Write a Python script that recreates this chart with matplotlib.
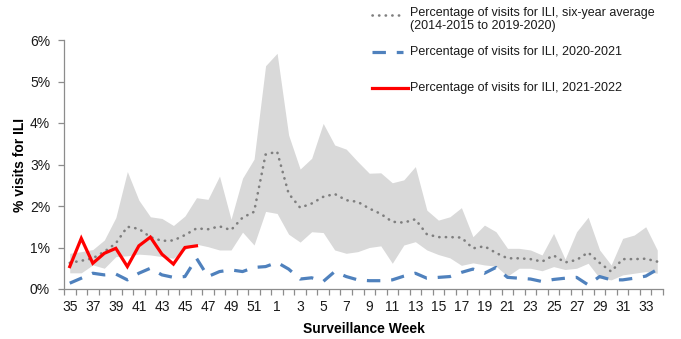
import matplotlib
matplotlib.use('Agg')
import matplotlib.pyplot as plt
from matplotlib.lines import Line2D
from matplotlib.ticker import FixedLocator, FuncFormatter

plt.rcParams['font.family'] = ['Liberation Sans', 'DejaVu Sans']

# Surveillance weeks 35..52 then 1..34
weeks = list(range(35, 53)) + list(range(1, 35))

# Six-year average and its range (percent of visits)
avg_6yr = [0.63, 0.68, 0.74, 0.90, 1.10, 1.50, 1.45, 1.25, 1.16, 1.17,
           1.30, 1.46, 1.44, 1.51, 1.42, 1.72, 1.86, 3.24, 3.31, 2.30,
           1.96, 2.06, 2.22, 2.29, 2.14, 2.10, 1.94, 1.81, 1.62, 1.60,
           1.68, 1.32, 1.25, 1.25, 1.24, 0.98, 1.03, 0.87, 0.74, 0.74,
           0.72, 0.66, 0.81, 0.64, 0.70, 0.88, 0.63, 0.42, 0.72, 0.72,
           0.73, 0.66]
range_high = [0.86, 0.90, 0.95, 1.18, 1.72, 2.83, 2.14, 1.74, 1.70, 1.53,
              1.76, 2.20, 2.16, 2.72, 1.68, 2.67, 3.13, 5.38, 5.68, 3.71,
              2.89, 3.15, 3.99, 3.47, 3.37, 3.07, 2.79, 2.80, 2.56, 2.63,
              2.95, 1.90, 1.66, 1.74, 1.96, 1.26, 1.54, 1.38, 0.98, 0.98,
              0.94, 0.82, 1.34, 0.72, 1.38, 1.73, 0.94, 0.58, 1.22, 1.30,
              1.50, 0.94]
range_low = [0.39, 0.39, 0.58, 0.50, 0.78, 0.80, 0.84, 0.82, 0.78, 0.74,
             0.95, 1.08, 1.02, 0.94, 0.94, 1.37, 1.06, 1.87, 1.82, 1.32,
             1.13, 1.38, 1.36, 0.94, 0.86, 0.90, 1.00, 1.04, 0.62, 1.06,
             1.14, 0.94, 0.83, 0.75, 0.57, 0.63, 0.58, 0.55, 0.31, 0.50,
             0.50, 0.44, 0.54, 0.47, 0.50, 0.62, 0.26, 0.22, 0.34, 0.38,
             0.42, 0.38]

season_2020_21 = [0.14, 0.26, 0.38, 0.34, 0.36, 0.22, 0.38, 0.50, 0.34, 0.28,
                  0.30, 0.74, 0.30, 0.42, 0.46, 0.42, 0.52, 0.54, 0.64, 0.48,
                  0.24, 0.27, 0.18, 0.42, 0.30, 0.22, 0.20, 0.20, 0.22, 0.31,
                  0.38, 0.26, 0.28, 0.30, 0.40, 0.48, 0.38, 0.52, 0.28, 0.26,
                  0.24, 0.18, 0.23, 0.26, 0.28, 0.10, 0.30, 0.22, 0.22, 0.26,
                  0.31, 0.47]

season_2021_22 = [0.54, 1.22, 0.62, 0.86, 0.98, 0.54, 1.04, 1.25, 0.84, 0.60,
                  1.00, 1.04]

legend_labels = [
    'Percentage of visits for ILI, six-year average\n(2014-2015 to 2019-2020)',
    'Percentage of visits for ILI, 2020-2021',
    'Percentage of visits for ILI, 2021-2022',
]

W, H = 681, 339
fig = plt.figure(figsize=(W / 100, H / 100), dpi=100)
ax = fig.add_axes([64 / W, 50 / H, 599 / W, 249 / H])

x = list(range(len(weeks)))
ax.fill_between(x, range_low, range_high, color='#d9d9d9', linewidth=0)
ax.plot(x, avg_6yr, color='#7f7f7f', lw=1.9, linestyle=(0, (0.1, 2.4)),
        dash_capstyle='round')
ax.plot(x, season_2020_21, color='#4f81bd', lw=2.3, linestyle=(0, (4.2, 3.4)),
        dash_capstyle='butt')
ax.plot(x[:len(season_2021_22)], season_2021_22, color='#ff0000', lw=2.3,
        solid_joinstyle='miter')

ax.set_xlim(-0.5, len(weeks) - 0.5)
ax.set_ylim(0, 6)

for side in ('top', 'right'):
    ax.spines[side].set_visible(False)
for side in ('left', 'bottom'):
    ax.spines[side].set_color('#8c8c8c')
    ax.spines[side].set_linewidth(0.9)

# category labels every other week, tick marks on category boundaries
ax.xaxis.set_major_locator(FixedLocator(x[::2]))
ax.set_xticklabels([str(w) for w in weeks[::2]])
ax.xaxis.set_minor_locator(FixedLocator([i - 0.5 for i in range(len(weeks) + 1)]))
ax.tick_params(axis='x', which='major', length=0, pad=8, labelsize=10,
               labelcolor='#1a1a1a')
ax.tick_params(axis='x', which='minor', length=4, width=0.9, color='#8c8c8c',
               direction='out')

ax.yaxis.set_major_locator(FixedLocator(range(0, 7)))
ax.yaxis.set_major_formatter(FuncFormatter(lambda v, pos: f'{int(v)}%'))
ax.tick_params(axis='y', length=4, width=0.9, color='#8c8c8c', pad=6,
               labelsize=10, labelcolor='#1a1a1a')

ax.set_xlabel('Surveillance Week', fontsize=10, fontweight='bold')
ax.xaxis.set_label_coords(0.5, -0.133)
ax.set_ylabel('% visits for ILI', fontsize=10, fontweight='bold')
ax.yaxis.set_label_coords(-0.062, 0.5)

# legend drawn in figure pixel positions
def px(xp, yp):
    return xp / W, 1 - yp / H

styles = [
    dict(color='#7f7f7f', lw=1.9, linestyle=(0, (0.1, 2.4)), dash_capstyle='round'),
    dict(color='#4f81bd', lw=2.3, linestyle=(0, (4.2, 3.4)), dash_capstyle='butt'),
    dict(color='#ff0000', lw=2.3),
]
rows = [15, 52, 88]
ends = [403, 403, 408]
for style, label, yrow, xend in zip(styles, legend_labels, rows, ends):
    (x0, y0), (x1, _) = px(372, yrow), px(xend, yrow)
    fig.add_artist(Line2D([x0, x1], [y0, y0], transform=fig.transFigure, **style))
    two_lines = '\n' in label
    tx, ty = px(410, yrow - 8 if two_lines else yrow)
    fig.text(tx, ty, label, fontsize=9, color='#1a1a1a',
             va='top' if two_lines else 'center', linespacing=1.15)

fig.savefig('out.png', dpi=100)
